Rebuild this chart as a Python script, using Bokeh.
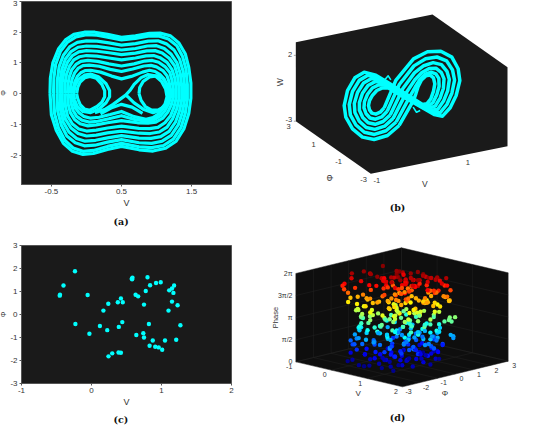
from bokeh.plotting import figure
from bokeh.layouts import column, row
from bokeh.models import FixedTicker, Title, LinearColorMapper, ColumnDataSource
from bokeh.core.properties import value
from bokeh.embed import file_html
from bokeh.resources import INLINE

CYAN = "#00FFFF"
FACE = "#1a1a1a"
FACE_D = "#0e0e0e"
TICK = "#333333"
SANS = "Liberation Sans"
SERIF = "DejaVu Serif"

# ---------- panel (a): V / Phi orbits ----------
a_x_ticks = [-0.5, 0.5, 1.5]
a_x_labels = ["-0.5", "0.5", "1.5"]
a_y_ticks = [-2, -1, 0, 1, 2, 3]
a_y_labels = ["-2", "-1", "0", "1", "2", "3"]

loop_a1 = [(-.52,0),(-.515,.5),(-.48,1.0),(-.40,1.45),(-.30,1.75),(-.18,1.93),(-.03,2.0),(.12,2.0),(.3,1.93),(.5,1.83),(.7,1.88),(.9,1.96),(1.05,1.97),(1.2,1.88),(1.32,1.65),(1.41,1.3),(1.46,.85),(1.49,.35),(1.49,-.15),(1.46,-.65),(1.39,-1.15),(1.28,-1.55),(1.13,-1.78),(.95,-1.87),(.75,-1.83),(.5,-1.72),(.3,-1.82),(.1,-1.95),(-.05,-1.98),(-.2,-1.88),(-.33,-1.62),(-.43,-1.2),(-.5,-.7),(-.52,0)]
loop_a2 = [(-.47,0),(-.465,.5),(-.44,.95),(-.37,1.38),(-.27,1.68),(-.15,1.85),(0,1.92),(.15,1.9),(.32,1.83),(.5,1.75),(.7,1.8),(.88,1.87),(1.03,1.88),(1.17,1.78),(1.29,1.56),(1.37,1.22),(1.42,.8),(1.44,.3),(1.44,-.2),(1.41,-.65),(1.35,-1.1),(1.24,-1.48),(1.1,-1.69),(.93,-1.76),(.75,-1.73),(.5,-1.62),(.3,-1.72),(.1,-1.85),(-.05,-1.88),(-.19,-1.77),(-.31,-1.52),(-.4,-1.12),(-.455,-.65),(-.47,0)]
loop_a3 = [(-.42,0),(-.415,.45),(-.39,.88),(-.33,1.25),(-.24,1.52),(-.13,1.67),(0,1.72),(.15,1.71),(.32,1.65),(.5,1.58),(.7,1.63),(.88,1.71),(1.02,1.72),(1.14,1.62),(1.25,1.42),(1.33,1.12),(1.38,.72),(1.4,.25),(1.4,-.2),(1.37,-.6),(1.31,-1.02),(1.21,-1.36),(1.08,-1.55),(.93,-1.62),(.75,-1.6),(.5,-1.5),(.3,-1.58),(.12,-1.68),(-.03,-1.7),(-.16,-1.6),(-.28,-1.38),(-.36,-1.02),(-.41,-.58),(-.42,0)]
loop_a4 = [(-.38,0),(-.375,.42),(-.35,.8),(-.3,1.13),(-.22,1.37),(-.12,1.51),(0,1.55),(.15,1.54),(.32,1.48),(.5,1.42),(.7,1.47),(.87,1.55),(1.0,1.56),(1.11,1.47),(1.21,1.28),(1.29,1.01),(1.34,.65),(1.36,.22),(1.36,-.18),(1.33,-.55),(1.27,-.93),(1.18,-1.23),(1.06,-1.4),(.92,-1.46),(.75,-1.45),(.5,-1.37),(.3,-1.44),(.13,-1.52),(-.02,-1.55),(-.14,-1.46),(-.25,-1.25),(-.33,-.93),(-.37,-.53),(-.38,0)]
loop_a5 = [(-.35,0),(-.345,.38),(-.32,.72),(-.27,1.02),(-.2,1.24),(-.11,1.36),(0,1.4),(.15,1.38),(.32,1.33),(.5,1.27),(.7,1.32),(.86,1.39),(.98,1.4),(1.08,1.32),(1.18,1.15),(1.26,.9),(1.3,.58),(1.32,.2),(1.32,-.16),(1.29,-.49),(1.23,-.82),(1.15,-1.09),(1.04,-1.25),(.91,-1.3),(.75,-1.29),(.5,-1.22),(.3,-1.28),(.14,-1.35),(0,-1.38),(-.12,-1.3),(-.22,-1.12),(-.3,-.83),(-.34,-.47),(-.35,0)]
loop_a6 = [(-.31,0),(-.305,.33),(-.285,.63),(-.24,.9),(-.18,1.1),(-.1,1.2),(0,1.24),(.15,1.22),(.32,1.16),(.5,1.1),(.7,1.16),(.85,1.23),(.96,1.24),(1.05,1.17),(1.15,1.02),(1.22,.79),(1.26,.51),(1.28,.18),(1.28,-.14),(1.25,-.43),(1.2,-.72),(1.12,-.95),(1.02,-1.1),(.9,-1.14),(.75,-1.13),(.5,-1.06),(.3,-1.12),(.14,-1.19),(0,-1.22),(-.11,-1.15),(-.2,-.99),(-.27,-.73),(-.3,-.41),(-.31,0)]
loop_a7 = [(-.27,0),(-.265,.29),(-.245,.55),(-.21,.78),(-.15,.95),(-.08,1.05),(.02,1.08),(.16,1.05),(.32,.97),(.5,.9),(.68,.97),(.83,1.06),(.94,1.08),(1.03,1.02),(1.12,.88),(1.19,.69),(1.22,.44),(1.24,.15),(1.24,-.12),(1.21,-.37),(1.16,-.61),(1.09,-.8),(.99,-.93),(.88,-.96),(.73,-.95),(.5,-.88),(.3,-.95),(.14,-1.02),(.02,-1.05),(-.09,-.98),(-.17,-.84),(-.23,-.62),(-.26,-.35),(-.27,0)]
loop_a8 = [(-.23,0),(-.225,.25),(-.205,.47),(-.17,.67),(-.12,.82),(-.05,.91),(.04,.93),(.18,.89),(.34,.79),(.5,.72),(.66,.8),(.82,.9),(.92,.92),(1.0,.87),(1.09,.75),(1.15,.58),(1.18,.37),(1.2,.13),(1.2,-.12),(1.17,-.34),(1.12,-.56),(1.06,-.72),(.97,-.85),(.86,-.9),(.7,-.85),(.5,-.72),(.32,-.82),(.16,-.9),(.04,-.93),(-.06,-.87),(-.14,-.74),(-.19,-.55),(-.22,-.3),(-.23,0)]
loop_a9 = [(-.19,0),(-.185,.2),(-.165,.39),(-.13,.56),(-.08,.68),(-.02,.75),(.06,.76),(.2,.7),(.36,.57),(.5,.48),(.64,.56),(.8,.7),(.9,.76),(.98,.72),(1.05,.62),(1.11,.47),(1.14,.3),(1.16,.1),(1.16,-.1),(1.14,-.3),(1.09,-.5),(1.03,-.66),(.95,-.78),(.85,-.84),(.68,-.75),(.5,-.58),(.34,-.68),(.18,-.77),(.06,-.8),(-.04,-.74),(-.11,-.62),(-.16,-.46),(-.185,-.24),(-.19,0)]
loop_a10 = [(.12,-.62),(.26,-.52),(.38,-.35),(.56,-.05),(.62,.1),(.68,.3),(.78,.52),(.88,.62),(.98,.58),(1.07,.4),(1.13,.15),(1.15,-.1),(1.12,-.35),(1.05,-.55),(.95,-.62),(.82,-.52),(.68,-.3),(.6,-.12),(.56,-.05)]
loop_a11 = [(-.14,0),(-.125,.2),(-.09,.38),(-.02,.52),(.05,.56),(.14,.5),(.22,.3),(.26,.1),(.26,-.1),(.22,-.28),(.15,-.42),(.05,-.54),(-.03,-.5),(-.09,-.36),(-.125,-.16),(-.14,0)]
loop_a12 = [(.75,0),(.76,.2),(.81,.4),(.9,.54),(1.0,.58),(1.09,.5),(1.15,.3),(1.18,.05),(1.16,-.2),(1.11,-.42),(1.02,-.54),(.93,-.54),(.84,-.42),(.78,-.22),(.75,0)]
loop_a13 = [(-.18,0),(-.165,.25),(-.12,.45),(-.03,.6),(.06,.64),(.17,.55),(.28,.32),(.33,.1),(.33,-.1),(.28,-.3),(.18,-.5),(.06,-.62),(-.05,-.58),(-.13,-.42),(-.17,-.2),(-.18,0)]
strand_a = [(.2,-.66),(.35,-.47),(.5,-.35),(.65,-.44),(.8,-.64)]
loops_a = [loop_a1, loop_a2, loop_a3, loop_a4, loop_a5, loop_a6, loop_a7, loop_a8, loop_a9, loop_a10, loop_a11, loop_a12, loop_a13, strand_a]

# ---------- panel (b): V / W orbits, Phi = 0 plane ----------
b_v_ticks = [-1, 1]
b_phi_ticks = [-3, -1, 1, 3]
b_w_ticks = [-3, 2]
b_v_limits = (-1, 2)
b_phi_limits = (-3, 3)
b_w_limits = (-3, 3)

loop_b1 = [(.445,-2.34),(.189,-2.92),(-.104,-3.02),(-.36,-2.66),(-.579,-1.88),(-.726,-.89),(-.762,.02),(-.689,1.11),(-.528,1.96),(-.323,2.25),(-.067,1.84),(.189,1.13),(.957,-1.11),(1.052,-1.12),(1.14,-.8),(1.199,-.26),(1.228,.27),(1.199,.75),(1.126,1.01),(1.03,1.02),(.935,.78),(.862,.33),(.811,-.19),(.76,-.66),(.445,-2.34)]
loop_b2 = [(.379,-2.03),(.157,-2.54),(-.097,-2.64),(-.319,-2.32),(-.504,-1.64),(-.626,-.78),(-.651,.02),(-.579,.96),(-.431,1.7),(-.243,1.95),(-.013,1.61),(.215,.97),(.964,-1.18),(1.084,-1.31),(1.191,-1.1),(1.272,-.56),(1.322,.03),(1.315,.63),(1.249,1.02),(1.144,1.22),(1.02,1.16),(.903,.83),(.801,.35),(.682,-.3),(.379,-2.03)]
loop_b3 = [(.313,-1.71),(.125,-2.17),(-.089,-2.26),(-.278,-1.99),(-.43,-1.41),(-.527,-.67),(-.54,.02),(-.469,.81),(-.335,1.44),(-.162,1.66),(.041,1.38),(.242,.82),(.972,-1.25),(1.116,-1.49),(1.242,-1.4),(1.345,-.87),(1.415,-.21),(1.43,.51),(1.372,1.03),(1.258,1.43),(1.105,1.53),(.944,1.33),(.791,.89),(.604,.06),(.313,-1.71)]
loop_b4 = [(.248,-1.4),(.092,-1.79),(-.082,-1.88),(-.237,-1.65),(-.355,-1.17),(-.427,-.57),(-.428,.01),(-.36,.67),(-.238,1.18),(-.082,1.36),(.096,1.15),(.268,.66),(.979,-1.32),(1.149,-1.68),(1.294,-1.7),(1.419,-1.17),(1.509,-.46),(1.546,.38),(1.494,1.04),(1.373,1.63),(1.19,1.91),(.985,1.82),(.78,1.42),(.527,.41),(.248,-1.4)]
loop_b5 = [(.182,-1.08),(.06,-1.42),(-.074,-1.5),(-.196,-1.32),(-.281,-.94),(-.328,-.46),(-.317,.01),(-.25,.52),(-.142,.92),(-.001,1.07),(.15,.92),(.295,.51),(.987,-1.39),(1.181,-1.86),(1.345,-2.0),(1.492,-1.48),(1.602,-.7),(1.661,.26),(1.617,1.05),(1.487,1.84),(1.275,2.28),(1.026,2.32),(.77,1.96),(.449,.77),(.182,-1.08)]
loop_b6 = [(.116,-.77),(.028,-1.04),(-.067,-1.12),(-.155,-.98),(-.206,-.7),(-.228,-.35),(-.206,.01),(-.14,.37),(-.045,.66),(.079,.77),(.204,.69),(.321,.35),(.994,-1.46),(1.213,-2.05),(1.396,-2.3),(1.565,-1.78),(1.696,-.94),(1.777,.14),(1.74,1.06),(1.601,2.04),(1.36,2.66),(1.067,2.82),(.76,2.5),(.371,1.13),(.116,-.77)]
spur_b1 = [(.115,1.31),(.204,1.60),(.262,1.25)]
spur_b2 = [(.752,-1.16),(.825,-1.6),(.906,-1.52)]
loops_b = [loop_b1, loop_b2, loop_b3, loop_b4, loop_b5, loop_b6]
spurs_b = [spur_b1, spur_b2]

# ---------- panel (c): section points ----------
c_v = [-.236,-.40,-.45,-.454,-.055,-.23,-.03,.12,.225,.39,.44,.17,.24,.376,.42,.447,.243,.296,.386,.42,.576,.585,.58,.80,.63,.666,.775,.837,.922,.989,.75,1.11,1.15,1.18,1.17,1.15,1.23,1.10,1.27,.82,.74,.64,.75,.875,.83,.91,.96,1.01,1.05,1.21]
c_phi = [1.88,1.26,.86,.82,.85,-.41,-.84,-.50,-.68,-.54,-.33,.17,.47,.53,.70,.53,-1.82,-1.69,-1.65,-1.66,1.56,1.6,1.53,1.62,.86,.79,1.02,1.27,1.37,1.40,.43,1.05,1.13,1.26,.94,.56,.40,.17,-.47,-.41,-.81,-.89,-1.0,-1.13,-1.36,-1.40,-1.43,-1.53,-1.13,-1.10]
c_x_ticks = [-1, 0, 1, 2]
c_y_ticks = [-3, -2, -1, 0, 1, 2, 3]

# ---------- panel (d): points coloured by phase ----------
d_v_ticks = [-1, 0, 1, 2]
d_phi_ticks = [-3, -2, -1, 0, 1, 2, 3]
d_phase_ticks = [0, 1.5708, 3.1416, 4.7124, 6.2832]
d_phase_labels = ["0", "π/2", "π", "3π/2", "2π"]

d_band1 = [(.30,-1.75,.08),(.18,-1.8,.1),(.4,-1.65,.15),(-.26,-1.55,.05),(-.15,-1.5,.2),(-.3,-1.3,.55),(.55,-1.4,.3),(.7,-1.55,.12),(.85,-1.35,.25),(1.0,-1.5,.1),(1.1,-1.2,.45),(.6,-1.1,.5),(.45,-.9,.35),(.9,-.9,.6),(1.2,-.8,.3),(1.3,-.4,.55),(1.25,.1,.2),(1.15,.6,.4),(1.0,1.1,.15),(.8,1.4,.5),(.6,1.6,.3),(.35,1.5,.1),(.15,1.7,.45),(.5,.9,.25),(.7,.6,.6),(.9,.3,.35),(.3,.5,.55),(.05,.9,.2),(-.1,.4,.45),(.75,-.7,.1),(1.05,-.3,.6),(.25,-.6,.3)]
d_band2 = [(-.3,-1.3,1.42),(-.22,-1.35,1.2),(-.12,-1.45,1.3),(.02,-1.6,1.05),(.2,-1.5,.8),(.35,-1.2,.95),(.5,-1.55,.7),(.65,-1.3,1.15),(.8,-1.05,.85),(.95,-1.3,1.0),(1.1,-.9,.75),(1.2,-.5,1.1),(1.28,-.1,.9),(1.22,.35,1.25),(1.12,.8,.8),(1.05,1.2,1.2),(.9,1.5,.95),(.72,1.25,.7),(.55,1.7,1.1),(.42,1.3,.85),(.2,1.55,1.25),(0,1.2,.75),(-.15,.8,1.05),(.3,.8,1.3),(.6,.4,.9),(.8,.75,1.15),(.4,-.4,.7),(.1,-.75,1.2),(.7,-.5,1.0),(1.0,-.6,1.3),(-.05,-.9,.85),(.95,.15,.72)]
d_band3 = [(-.28,-1.1,1.8),(-.18,-1.2,1.6),(-.05,-1.35,1.75),(.1,-1.45,1.45),(.28,-1.6,1.9),(.45,-1.15,1.5),(.6,-.85,1.85),(.75,-1.2,1.4),(.9,-1.5,1.65),(1.05,-1.0,1.9),(1.15,-.65,1.45),(1.27,-.25,1.7),(1.3,.2,1.35),(1.18,.65,1.9),(1.25,1.4,1.82),(1.2,1.35,1.9),(1.3,1.3,1.75),(1.0,.95,1.5),(.85,1.3,1.85),(.65,1.5,1.4),(.45,1.1,1.7),(.25,1.3,1.45),(.05,1.5,1.9),(-.1,1.1,1.6),(-.2,.6,1.85),(.2,.3,1.5),(.55,.7,1.35),(.75,.2,1.8),(.35,-.55,1.95),(0,-.6,1.4),(.85,-.6,1.6),(1.1,0,1.95)]
d_band4 = [(-.25,-.9,2.05),(-.2,-1.05,2.3),(-.28,-.75,2.2),(-.1,-1.2,2.5),(.05,-1.1,2.1),(.2,-1.35,2.45),(.35,-.95,2.2),(.5,-1.4,2.55),(.62,-1.05,2.0),(.78,-1.4,2.35),(.92,-1.1,2.6),(1.05,-.75,2.1),(1.12,-1.1,2.4),(1.25,-.6,2.55),(1.3,0,2.05),(1.25,.45,2.5),(1.1,.9,2.2),(.95,1.2,2.55),(.8,1.55,2.1),(.6,1.2,2.4),(.35,1.6,2.0),(.15,1.1,2.3),(-.05,1.35,2.6),(-.15,.9,2.15),(.35,.55,2.5),(.7,.5,2.05),(.9,.35,2.45),(.5,-.3,2.3),(.2,-.65,2.55),(.85,-.3,2.2),(1.15,.3,2.35),(-.1,.35,2.45)]
d_band5 = [(1.2,1.3,3.15),(1.25,1.15,3.05),(1.3,1.2,2.95),(1.3,1.4,3.2),(1.15,1.1,2.9),(-.25,-.8,2.95),(-.3,-.6,2.8),(-.18,-.95,3.1),(-.1,-1.1,2.7),(.02,-.85,3.2),(.15,-1.2,2.9),(.3,-1.4,3.25),(.42,-1.05,2.75),(.55,-1.25,3.0),(.7,-.9,3.2),(.85,-1.25,2.8),(1.0,-.95,3.05),(1.15,-.8,2.7),(1.28,-.3,3.0),(1.0,.6,2.75),(.9,1.0,3.25),(.7,1.4,2.85),(.5,.95,3.15),(.3,1.2,2.7),(.05,1.0,3.0),(-.08,.55,2.8),(.25,.35,3.2),(.6,.25,2.9),(.85,.6,2.65),(.4,-.5,3.1),(.75,-.45,2.75),(1.05,-.2,3.25)]
d_band6 = [(-.32,-.95,3.45),(-.38,-.7,3.35),(-.25,-1.0,3.6),(-.15,-.85,3.8),(-.05,-1.15,3.4),(.1,-.9,3.7),(.25,-1.15,3.5),(.35,-1.5,3.85),(.5,-1.0,3.4),(.62,-1.35,3.75),(.8,-1.0,3.5),(.95,-1.35,3.9),(1.1,-.85,3.6),(1.2,-.4,3.85),(1.25,.1,3.4),(1.15,.55,3.75),(1.05,1.0,3.55),(.88,1.25,3.9),(.65,.95,3.4),(.45,1.4,3.7),(.2,.9,3.85),(0,.65,3.5),(.3,.1,3.65),(.55,-.4,3.8),(.7,.3,3.45),(.9,.05,3.7),(.1,-.55,3.35),(.98,-.55,3.9)]
d_band7 = [(-.42,-1.2,4.05),(-.43,-1.05,4.3),(-.3,-.9,4.4),(-.22,-1.1,4.0),(-.12,-.7,4.25),(0,-1.0,4.5),(.12,-1.3,4.1),(.25,-.8,4.35),(.4,-1.2,4.5),(.55,-.8,4.0),(.7,-1.15,4.25),(.85,-.75,4.45),(1.0,-1.15,4.05),(1.15,-.55,4.3),(1.28,.2,4.35),(1.25,1.2,4.42),(1.3,1.05,4.5),(1.18,1.3,4.3),(1.2,.75,4.1),(1.05,1.35,4.5),(.95,.95,4.15),(.75,1.15,4.45),(.55,1.3,4.0),(.35,.85,4.3),(.15,.55,4.5),(.5,.2,4.1),(.8,.35,4.4),(.95,-.25,4.0),(.3,-.35,4.2),(.65,-.5,4.55)]
d_band8 = [(-.36,-1.55,5.1),(-.3,-1.45,4.85),(-.2,-1.25,5.2),(-.1,-1.0,4.7),(.02,-.8,5.05),(.15,-1.1,4.6),(.28,-.6,5.25),(.4,-.9,4.85),(.55,-1.1,5.1),(.68,-.7,4.7),(.82,-1.0,5.2),(.95,-.6,4.75),(1.08,-.95,5.05),(1.2,-.2,4.65),(1.25,.35,5.2),(1.3,.95,4.8),(1.22,1.3,5.1),(1.1,1.15,4.65),(.98,1.45,5.25),(.8,1.0,4.9),(.62,1.25,4.6),(.42,.7,5.1),(.22,.9,4.75),(.05,.35,5.25),(.3,0,4.65),(.55,.45,4.95),(.75,-.1,5.15),(1.0,.3,4.7),(.45,-.5,4.6),(.9,.7,5.05),(-.05,.6,4.9)]
d_band9 = [(-.44,-.95,6.0),(-.4,-1.05,5.7),(-.3,-.55,6.1),(-.25,-.3,5.9),(-.26,.45,6.2),(-.35,-1.55,5.5),(-.38,-1.6,5.35),(-.18,-.95,5.6),(-.08,-.6,6.05),(.05,-.95,5.45),(.15,-.45,5.85),(.25,-.9,6.15),(.38,-.65,5.55),(.5,-.95,5.95),(.62,-.45,6.2),(.75,-.9,5.65),(.88,-.5,6.0),(1.0,-.85,5.4),(1.12,-.35,5.85),(1.22,0,5.5),(1.28,.5,5.35),(1.2,.85,5.7),(1.15,1.25,5.4),(1.02,.95,6.0),(.92,1.3,5.6),(.8,.6,6.2),(.65,1.05,5.8),(.5,.5,6.1),(.38,.9,5.45),(.2,.65,5.95),(.05,1.0,5.6),(-.1,.2,5.5),(.3,.25,6.2),(.55,.1,5.7),(.7,.3,5.4),(.45,-.2,6.05),(.9,.2,5.95),(1.05,.4,6.15),(.6,-.2,5.55),(.25,.05,5.8),(1.15,1.2,5.95)]
d_extra_low = [(.5,-.7,.2),(.62,-.25,.55),(.38,-1.0,.75),(.85,-.45,.4),(.55,.3,.15),(.72,.9,.3),(.95,.75,.6),(.35,1.05,.5),(.2,-1.2,.35),(.1,-1.3,.65),(.68,-1.0,.9),(.82,.15,.95),(.45,.45,1.05),(.3,-.15,1.2),(.15,.15,.85),(.98,-1.0,1.15),(1.1,.45,1.3),(.58,1.0,1.5),(.35,.3,1.7),(.7,-.15,1.55),(.5,-.6,1.25),(.22,-1.0,1.55),(.42,-1.45,1.75),(.92,-.2,1.35),(1.18,.15,1.6),(.9,.9,1.75),(.1,.6,1.65),(.6,1.1,1.9),(.28,.95,1.95),(-.02,-.3,1.8)]
d_extra_mid = [(.45,-.75,2.1),(.65,-.7,2.4),(.3,-1.15,2.65),(.55,.35,2.6),(.8,-.05,2.7),(.15,-.25,2.85),(.4,.15,3.0),(.62,.75,3.1),(.95,-.75,3.3),(.25,.75,3.35),(.45,-.15,3.55),(.68,-.75,3.6),(.85,.35,3.65),(.12,.3,3.75),(.42,.65,3.95)]
d_extra_high = [(.58,-.6,4.1),(.42,-.65,4.45),(.2,-1.05,4.3),(.75,.7,4.2),(.98,.5,4.35),(1.12,.15,4.5),(.62,.55,4.4),(.3,.55,4.65),(.85,-.35,4.8),(.65,-.35,5.0),(.5,-.2,5.2),(.2,-.2,5.15),(.35,.3,5.05),(.75,.9,5.3),(.95,1.05,4.85),(1.1,.6,5.2),(.6,.8,5.35),(.4,.4,5.4),(.15,-.75,5.4),(.82,.1,5.45),(.65,-.1,5.6),(.48,.25,5.75),(.3,-.5,5.7),(.95,-.3,5.75),(.75,-.6,6.1),(.58,-.75,5.9),(.4,-.1,6.2),(.15,.4,6.1),(.95,.55,5.75),(.72,.75,6.0),(1.1,.7,5.95),(.85,.95,5.85),(.55,.8,6.15),(1.0,-.1,6.1),(.78,.05,5.95),(.32,-.25,5.95),(.12,-.3,5.6),(.6,.3,5.9)]
d_points = (d_band1 + d_band2 + d_band3 + d_band4 + d_band5 + d_band6 + d_band7 + d_band8 + d_band9
            + d_extra_low + d_extra_mid + d_extra_high)


def jet(n=128):
    out = []
    for i in range(n):
        t = i / (n - 1)
        r = min(max(min(4 * t - 1.5, 4.5 - 4 * t), 0), 1)
        g = min(max(min(4 * t - 0.5, 3.5 - 4 * t), 0), 1)
        b = min(max(min(4 * t + 0.5, 2.5 - 4 * t), 0), 1)
        out.append("#%02x%02x%02x" % (int(r * 255), int(g * 255), int(b * 255)))
    return out


def style_2d(p, xt, xl, yt, yl):
    p.background_fill_color = FACE
    p.grid.visible = False
    p.outline_line_color = "#555555"
    for ax, ticks, labels in ((p.xaxis[0], xt, xl), (p.yaxis[0], yt, yl)):
        ax.ticker = FixedTicker(ticks=ticks)
        ax.major_label_overrides = dict(zip(ticks, labels))
        ax.major_tick_in = 0
        ax.major_tick_out = 2
        ax.minor_tick_line_color = None
        ax.axis_line_color = "#555555"
        ax.major_tick_line_color = "#555555"
        ax.major_label_text_font = SANS
        ax.major_label_text_font_size = "8px"
        ax.major_label_text_color = TICK
        ax.major_label_standoff = 2
        ax.axis_label_text_font = SANS
        ax.axis_label_text_font_style = "normal"
        ax.axis_label_text_color = TICK
        ax.axis_label_standoff = 0
    p.xaxis[0].axis_label = "V"
    p.xaxis[0].axis_label_text_font_size = "9px"
    p.xaxis[0].axis_label_standoff = 1
    p.yaxis[0].axis_label = "Φ"
    p.yaxis[0].axis_label_text_font_size = "7px"


def caption(p, text, offset, standoff):
    p.add_layout(Title(text=text, align="left", offset=offset, standoff=standoff,
                       text_font=SERIF, text_font_style="bold",
                       text_font_size="9.5px", text_color="#111111"), "below")


# ---- (a)
pa = figure(width=271, height=232, x_range=(-0.927, 2.07), y_range=(-2.96, 3.0),
            output_backend="svg", toolbar_location=None,
            min_border_left=25, min_border_right=36, min_border_top=1, min_border_bottom=48)
style_2d(pa, a_x_ticks, a_x_labels, a_y_ticks, a_y_labels)
for lp in loops_a:
    pa.line([q[0] for q in lp], [q[1] for q in lp], line_color=CYAN, line_width=3.2, line_join="round")
caption(pa, "(a)", 92, 6)

# ---- (c)
pc = figure(width=271, height=195, x_range=(-1, 2), y_range=(-3, 3),
            output_backend="svg", toolbar_location=None,
            min_border_left=25, min_border_right=36, min_border_top=13, min_border_bottom=44)
style_2d(pc, c_x_ticks, [str(t) for t in c_x_ticks], c_y_ticks, [str(t) for t in c_y_ticks])
pc.scatter(c_v, c_phi, size=4.4, color=CYAN, line_color=None)
caption(pc, "(c)", 92, 5)


# ---- (b)
def proj_b(v, phi, w):
    return (310 + 136.67 * (v + 1) - 37.5 * (phi + 3),
            520 - 27.67 * (v + 1) - 26.33 * (phi + 3) - 39.5 * (w + 3))


pb = figure(width=266, height=232, x_range=(0, 798), y_range=(696, 0),
            output_backend="svg", toolbar_location=None, min_border=0)
pb.axis.visible = False
pb.grid.visible = False
pb.outline_line_color = None
v0, v1 = b_v_limits
f0, f1 = b_phi_limits
w0, w1 = b_w_limits
hex_b = [proj_b(v0, f0, w0), proj_b(v1, f0, w0), proj_b(v1, f0, w1),
         proj_b(v1, f1, w1), proj_b(v0, f1, w1), proj_b(v0, f1, w0)]
pb.patch([q[0] for q in hex_b], [q[1] for q in hex_b], fill_color=FACE, line_color=None)
for lp in spurs_b:
    pts = [proj_b(v, 0, w) for v, w in lp]
    pb.line([q[0] for q in pts], [q[1] for q in pts], line_color=CYAN, line_width=1.6, line_join="round")
for lp in loops_b:
    pts = [proj_b(v, 0, w) for v, w in lp]
    pb.line([q[0] for q in pts], [q[1] for q in pts], line_color=CYAN, line_width=3.5, line_join="round")


def txt(p, x, y, s, size="7.5px", angle=0, color=TICK, font=SANS, style="normal", align="center"):
    p.text([x], [y], text=[s], angle=angle, text_font=value(font), text_font_size=value(size),
           text_font_style=style, text_color=color, text_align=align, text_baseline="middle")


for t in b_w_ticks:
    x, y = proj_b(v0, f1, t)
    pb.segment([x - 6], [y], [x], [y], line_color="#666666", line_width=0.6)
    txt(pb, x - 11, y - 4, str(t), align="right")
for t in b_phi_ticks:
    x, y = proj_b(v0, t, w0)
    txt(pb, x - 22, y + 17, str(t))
for t in b_v_ticks:
    x, y = proj_b(t, f0, w0)
    txt(pb, x + 18, y + 21, str(t))
txt(pb, 37, 245, "W", size="8.5px", angle=1.5708)
txt(pb, 188, 532, "Φ", size="8.5px", angle=1.5708)
txt(pb, 472, 550, "V", size="8.5px")
txt(pb, 390, 622, "(b)", size="9.5px", font=SERIF, style="bold", color="#111111")


# ---- (d)
def proj_d(v, phi, ph):
    return (405 - 106.67 * (2 - v) + 52.83 * (phi + 3),
            520 - 25 * (2 - v) - 12.83 * (phi + 3) - 42.2 * ph)


pd_ = figure(width=266, height=195, x_range=(0, 798), y_range=(642, 57),
             output_backend="svg", toolbar_location=None, min_border=0)
pd_.axis.visible = False
pd_.grid.visible = False
pd_.outline_line_color = None
vlo, vhi = d_v_ticks[0], d_v_ticks[-1]
flo, fhi = d_phi_ticks[0], d_phi_ticks[-1]
plo, phi_top = d_phase_ticks[0], d_phase_ticks[-1]
hex_d = [proj_d(vlo, flo, plo), proj_d(vhi, flo, plo), proj_d(vhi, fhi, plo),
         proj_d(vhi, fhi, phi_top), proj_d(vlo, fhi, phi_top), proj_d(vlo, flo, phi_top)]
pd_.patch([q[0] for q in hex_d], [q[1] for q in hex_d], fill_color=FACE_D, line_color=None)
gx, gy = [], []


def seg(a, b):
    gx.append([a[0], b[0]])
    gy.append([a[1], b[1]])


for t in d_v_ticks:
    seg(proj_d(t, flo, plo), proj_d(t, fhi, plo))
    seg(proj_d(t, fhi, plo), proj_d(t, fhi, phi_top))
for t in d_phi_ticks:
    seg(proj_d(vlo, t, plo), proj_d(vhi, t, plo))
    seg(proj_d(vlo, t, plo), proj_d(vlo, t, phi_top))
for t in d_phase_ticks:
    seg(proj_d(vlo, flo, t), proj_d(vlo, fhi, t))
    seg(proj_d(vlo, fhi, t), proj_d(vhi, fhi, t))
pd_.multi_line(gx, gy, line_color="#222222", line_width=0.5)
pts = [proj_d(*q) for q in d_points]
mapper = LinearColorMapper(palette=jet(), low=0, high=6.2832)
src = ColumnDataSource(dict(x=[q[0] for q in pts], y=[q[1] for q in pts], c=[q[2] for q in d_points]))
pd_.scatter("x", "y", source=src, size=4.4, line_color=None,
            fill_color={"field": "c", "transform": mapper})
for t, s in zip(d_phase_ticks, d_phase_labels):
    x, y = proj_d(vlo, flo, t)
    txt(pd_, x - 10, y, s, size="7px", align="right")
for t in d_v_ticks:
    x, y = proj_d(t, flo, plo)
    txt(pd_, x - 20, y + 14, str(t), size="7px")
for t in d_phi_ticks:
    x, y = proj_d(vhi, t, plo)
    txt(pd_, x + 18, y + 14, str(t), size="7px")
txt(pd_, 25, 312, "Phase", size="7.5px", angle=1.5708)
txt(pd_, 272, 541, "V", size="8px")
txt(pd_, 532, 541, "Φ", size="8px")
txt(pd_, 390, 612, "(d)", size="9.5px", font=SERIF, style="bold", color="#111111")

root = row(column(pa, pc, spacing=0), column(pb, pd_, spacing=0), spacing=0)
root.styles = {"position": "absolute", "left": "-4px", "top": "0px"}
open("out.html", "w").write(file_html(root, INLINE))
